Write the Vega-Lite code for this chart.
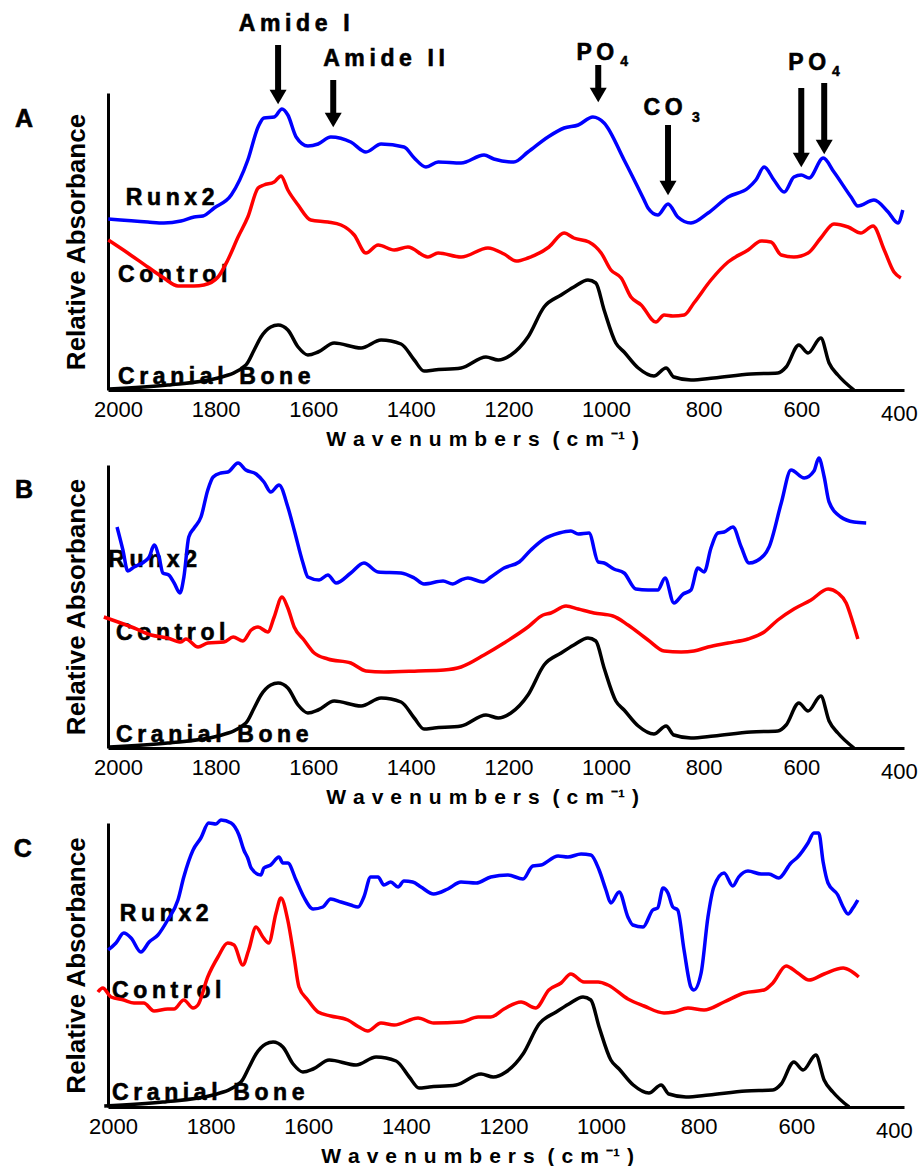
{
"$schema": "https://vega.github.io/schema/vega-lite/v6.json",
"background": "white",
"padding": {"left": 13, "top": 13, "right": 0, "bottom": 0},
"config": {"view": {"stroke": null}, "font": "Liberation Sans", "axis": {"labelFont": "Liberation Sans", "titleFont": "Liberation Sans", "grid": false}},
"bounds": "flush",
"spacing": 75,
"datasets": {
"bone": [{"w":2018,"a":1},{"w":1898,"a":5},{"w":1795,"a":12},{"w":1738,"a":25},{"w":1721,"a":40},{"w":1707,"a":53},{"w":1687,"a":63},{"w":1672,"a":65},{"w":1652,"a":60},{"w":1631,"a":43},{"w":1611,"a":35},{"w":1590,"a":38},{"w":1557,"a":47},{"w":1502,"a":42},{"w":1461,"a":50},{"w":1420,"a":46},{"w":1393,"a":30},{"w":1373,"a":19},{"w":1352,"a":20},{"w":1297,"a":22},{"w":1246,"a":33},{"w":1221,"a":30},{"w":1195,"a":35},{"w":1160,"a":53},{"w":1127,"a":83},{"w":1092,"a":95},{"w":1066,"a":103},{"w":1037,"a":110},{"w":1021,"a":107},{"w":1004,"a":80},{"w":980,"a":47},{"w":963,"a":38},{"w":934,"a":22},{"w":902,"a":14},{"w":877,"a":22},{"w":861,"a":13},{"w":826,"a":10},{"w":779,"a":12},{"w":703,"a":16},{"w":648,"a":17},{"w":631,"a":23},{"w":605,"a":45},{"w":586,"a":37},{"w":560,"a":52},{"w":543,"a":27},{"w":525,"a":15},{"w":492,"a":0}],
"runxA": [{"w":2020,"a":171},{"w":1939,"a":168},{"w":1906,"a":167},{"w":1871,"a":169},{"w":1844,"a":173},{"w":1826,"a":174},{"w":1803,"a":182},{"w":1768,"a":195},{"w":1734,"a":230},{"w":1713,"a":263},{"w":1701,"a":272},{"w":1680,"a":273},{"w":1664,"a":281},{"w":1652,"a":275},{"w":1635,"a":253},{"w":1611,"a":244},{"w":1590,"a":246},{"w":1564,"a":253},{"w":1523,"a":248},{"w":1492,"a":238},{"w":1461,"a":246},{"w":1414,"a":243},{"w":1393,"a":232},{"w":1369,"a":223},{"w":1344,"a":228},{"w":1297,"a":227},{"w":1250,"a":235},{"w":1230,"a":231},{"w":1189,"a":228},{"w":1160,"a":238},{"w":1119,"a":253},{"w":1086,"a":262},{"w":1057,"a":265},{"w":1027,"a":273},{"w":1004,"a":267},{"w":963,"a":230},{"w":922,"a":190},{"w":914,"a":182},{"w":894,"a":175},{"w":873,"a":186},{"w":853,"a":173},{"w":826,"a":167},{"w":791,"a":177},{"w":750,"a":193},{"w":709,"a":202},{"w":693,"a":210},{"w":676,"a":223},{"w":656,"a":210},{"w":635,"a":198},{"w":615,"a":213},{"w":600,"a":215},{"w":584,"a":212},{"w":555,"a":232},{"w":533,"a":218},{"w":498,"a":193},{"w":484,"a":184},{"w":451,"a":190},{"w":422,"a":178},{"w":402,"a":167},{"w":392,"a":180}],
"ctrlA": [{"w":2020,"a":150},{"w":1980,"a":137},{"w":1939,"a":123},{"w":1906,"a":112},{"w":1877,"a":104},{"w":1844,"a":104},{"w":1824,"a":105},{"w":1795,"a":113},{"w":1775,"a":130},{"w":1754,"a":153},{"w":1734,"a":173},{"w":1713,"a":202},{"w":1701,"a":205},{"w":1680,"a":208},{"w":1666,"a":214},{"w":1652,"a":200},{"w":1631,"a":185},{"w":1605,"a":170},{"w":1570,"a":168},{"w":1543,"a":165},{"w":1516,"a":155},{"w":1492,"a":137},{"w":1467,"a":145},{"w":1434,"a":140},{"w":1406,"a":143},{"w":1365,"a":133},{"w":1344,"a":137},{"w":1297,"a":133},{"w":1242,"a":142},{"w":1209,"a":136},{"w":1184,"a":129},{"w":1160,"a":132},{"w":1117,"a":143},{"w":1086,"a":157},{"w":1066,"a":152},{"w":1035,"a":148},{"w":1010,"a":137},{"w":990,"a":120},{"w":969,"a":112},{"w":949,"a":93},{"w":928,"a":85},{"w":898,"a":68},{"w":881,"a":75},{"w":863,"a":74},{"w":840,"a":75},{"w":820,"a":87},{"w":785,"a":110},{"w":750,"a":128},{"w":709,"a":140},{"w":682,"a":149},{"w":662,"a":148},{"w":641,"a":135},{"w":615,"a":133},{"w":586,"a":137},{"w":560,"a":152},{"w":533,"a":166},{"w":504,"a":163},{"w":478,"a":157},{"w":453,"a":164},{"w":430,"a":140},{"w":410,"a":118},{"w":396,"a":112}],
"runxB": [{"w":2002,"a":221},{"w":1990,"a":198},{"w":1980,"a":177},{"w":1967,"a":181},{"w":1947,"a":186},{"w":1936,"a":191},{"w":1926,"a":203},{"w":1916,"a":191},{"w":1908,"a":175},{"w":1896,"a":173},{"w":1885,"a":165},{"w":1873,"a":155},{"w":1865,"a":171},{"w":1855,"a":211},{"w":1844,"a":220},{"w":1830,"a":231},{"w":1816,"a":258},{"w":1805,"a":271},{"w":1789,"a":275},{"w":1775,"a":276},{"w":1754,"a":285},{"w":1738,"a":278},{"w":1717,"a":274},{"w":1701,"a":266},{"w":1687,"a":256},{"w":1670,"a":263},{"w":1652,"a":241},{"w":1639,"a":218},{"w":1621,"a":185},{"w":1611,"a":171},{"w":1588,"a":168},{"w":1570,"a":173},{"w":1553,"a":165},{"w":1523,"a":175},{"w":1496,"a":185},{"w":1467,"a":176},{"w":1420,"a":175},{"w":1393,"a":170},{"w":1373,"a":164},{"w":1334,"a":167},{"w":1314,"a":164},{"w":1297,"a":168},{"w":1283,"a":170},{"w":1252,"a":166},{"w":1236,"a":171},{"w":1209,"a":180},{"w":1178,"a":186},{"w":1154,"a":198},{"w":1127,"a":209},{"w":1096,"a":215},{"w":1072,"a":217},{"w":1057,"a":214},{"w":1035,"a":215},{"w":1016,"a":186},{"w":1004,"a":185},{"w":984,"a":179},{"w":963,"a":175},{"w":939,"a":159},{"w":914,"a":158},{"w":894,"a":158},{"w":879,"a":170},{"w":861,"a":145},{"w":842,"a":154},{"w":826,"a":158},{"w":812,"a":180},{"w":799,"a":176},{"w":785,"a":200},{"w":771,"a":215},{"w":758,"a":216},{"w":740,"a":221},{"w":723,"a":201},{"w":707,"a":185},{"w":676,"a":193},{"w":666,"a":201},{"w":641,"a":245},{"w":621,"a":278},{"w":594,"a":270},{"w":574,"a":277},{"w":564,"a":290},{"w":553,"a":271},{"w":543,"a":246},{"w":519,"a":231},{"w":492,"a":226},{"w":467,"a":225}],
"ctrlB": [{"w":2029,"a":131},{"w":2000,"a":126},{"w":1967,"a":120},{"w":1932,"a":113},{"w":1898,"a":110},{"w":1871,"a":106},{"w":1861,"a":109},{"w":1836,"a":101},{"w":1816,"a":105},{"w":1783,"a":106},{"w":1764,"a":111},{"w":1744,"a":107},{"w":1727,"a":118},{"w":1713,"a":121},{"w":1693,"a":116},{"w":1680,"a":131},{"w":1664,"a":151},{"w":1652,"a":140},{"w":1639,"a":121},{"w":1619,"a":108},{"w":1598,"a":95},{"w":1570,"a":89},{"w":1523,"a":85},{"w":1492,"a":77},{"w":1455,"a":76},{"w":1385,"a":77},{"w":1332,"a":78},{"w":1297,"a":81},{"w":1250,"a":93},{"w":1209,"a":105},{"w":1160,"a":121},{"w":1129,"a":133},{"w":1113,"a":135},{"w":1082,"a":142},{"w":1057,"a":139},{"w":1025,"a":135},{"w":986,"a":132},{"w":955,"a":123},{"w":914,"a":108},{"w":881,"a":97},{"w":846,"a":96},{"w":820,"a":97},{"w":791,"a":101},{"w":750,"a":105},{"w":709,"a":109},{"w":676,"a":116},{"w":648,"a":128},{"w":615,"a":139},{"w":580,"a":148},{"w":545,"a":159},{"w":525,"a":155},{"w":508,"a":145},{"w":494,"a":125},{"w":484,"a":109}],
"runxC": [{"w":2010,"a":157},{"w":1994,"a":164},{"w":1978,"a":174},{"w":1963,"a":169},{"w":1943,"a":155},{"w":1926,"a":165},{"w":1908,"a":172},{"w":1888,"a":187},{"w":1867,"a":207},{"w":1855,"a":230},{"w":1836,"a":257},{"w":1820,"a":269},{"w":1804,"a":284},{"w":1789,"a":283},{"w":1779,"a":287},{"w":1758,"a":284},{"w":1742,"a":272},{"w":1732,"a":257},{"w":1724,"a":249},{"w":1717,"a":239},{"w":1697,"a":232},{"w":1691,"a":239},{"w":1677,"a":242},{"w":1660,"a":250},{"w":1652,"a":244},{"w":1642,"a":244},{"w":1625,"a":227},{"w":1609,"a":210},{"w":1590,"a":198},{"w":1570,"a":200},{"w":1554,"a":208},{"w":1533,"a":205},{"w":1513,"a":202},{"w":1498,"a":200},{"w":1486,"a":210},{"w":1472,"a":230},{"w":1457,"a":230},{"w":1445,"a":222},{"w":1431,"a":225},{"w":1416,"a":220},{"w":1404,"a":226},{"w":1386,"a":225},{"w":1369,"a":220},{"w":1343,"a":213},{"w":1314,"a":218},{"w":1287,"a":225},{"w":1256,"a":224},{"w":1226,"a":230},{"w":1191,"a":232},{"w":1160,"a":228},{"w":1140,"a":241},{"w":1123,"a":242},{"w":1088,"a":251},{"w":1068,"a":250},{"w":1041,"a":253},{"w":1021,"a":252},{"w":1004,"a":237},{"w":990,"a":217},{"w":980,"a":204},{"w":963,"a":215},{"w":945,"a":190},{"w":935,"a":182},{"w":914,"a":180},{"w":894,"a":197},{"w":884,"a":199},{"w":873,"a":219},{"w":863,"a":214},{"w":853,"a":200},{"w":843,"a":197},{"w":830,"a":157},{"w":816,"a":120},{"w":810,"a":117},{"w":795,"a":134},{"w":781,"a":190},{"w":769,"a":220},{"w":748,"a":234},{"w":730,"a":221},{"w":718,"a":230},{"w":699,"a":236},{"w":672,"a":233},{"w":656,"a":233},{"w":636,"a":229},{"w":611,"a":244},{"w":597,"a":250},{"w":576,"a":264},{"w":564,"a":274},{"w":554,"a":274},{"w":545,"a":245},{"w":535,"a":224},{"w":515,"a":212},{"w":504,"a":200},{"w":494,"a":193},{"w":484,"a":199},{"w":474,"a":207}],
"ctrlC": [{"w":2031,"a":115},{"w":2021,"a":119},{"w":2004,"a":110},{"w":1978,"a":107},{"w":1957,"a":104},{"w":1937,"a":104},{"w":1916,"a":96},{"w":1888,"a":98},{"w":1875,"a":98},{"w":1855,"a":107},{"w":1836,"a":99},{"w":1826,"a":102},{"w":1806,"a":130},{"w":1785,"a":150},{"w":1765,"a":164},{"w":1752,"a":162},{"w":1734,"a":142},{"w":1722,"a":157},{"w":1707,"a":180},{"w":1693,"a":170},{"w":1681,"a":164},{"w":1666,"a":194},{"w":1656,"a":209},{"w":1642,"a":187},{"w":1629,"a":150},{"w":1619,"a":120},{"w":1601,"a":107},{"w":1580,"a":95},{"w":1554,"a":91},{"w":1519,"a":87},{"w":1496,"a":80},{"w":1478,"a":76},{"w":1451,"a":84},{"w":1424,"a":82},{"w":1375,"a":89},{"w":1343,"a":84},{"w":1287,"a":85},{"w":1252,"a":90},{"w":1226,"a":90},{"w":1199,"a":98},{"w":1164,"a":105},{"w":1134,"a":99},{"w":1107,"a":117},{"w":1082,"a":124},{"w":1062,"a":133},{"w":1035,"a":125},{"w":1006,"a":125},{"w":986,"a":122},{"w":945,"a":108},{"w":912,"a":101},{"w":871,"a":94},{"w":851,"a":95},{"w":822,"a":99},{"w":789,"a":97},{"w":748,"a":105},{"w":707,"a":114},{"w":666,"a":117},{"w":648,"a":124},{"w":621,"a":141},{"w":597,"a":134},{"w":574,"a":127},{"w":543,"a":133},{"w":504,"a":139},{"w":488,"a":136},{"w":472,"a":130}]
},
"vconcat": [
{
"width": 796, "height": 297,
"encoding": {
"x": {"field": "w", "type": "quantitative", "scale": {"domain": [2020.5, 389.5], "nice": false, "zero": false},
 "axis": {"values": [2000,1800,1600,1400,1200,1000,800,600,400], "format": "d", "ticks": false, "domainWidth": 3, "domainColor": "#000000", "labelFontSize": 22, "labelColor": "#000000", "labelBaseline": "alphabetic", "labelPadding": {"expr": "datum.value == 400 ? 30 : 26"}, "labelFlush": false, "labelOverlap": false, "title": "W\u2004a\u2004v\u2004e\u2004n\u2004u\u2004m\u2004b\u2004e\u2004r\u2004s \u2004(\u2004c\u2004m\u2004\u207b\u00b9\u2004)", "titleFontSize": 21, "titleFontWeight": "bold", "titleColor": "#000000", "titleX": 374, "titleY": 55, "titleAlign": "center", "titleBaseline": "alphabetic"}},
"y": {"field": "a", "type": "quantitative", "scale": {"domain": [0, 297], "nice": false, "zero": false},
 "axis": {"labels": false, "ticks": false, "domainWidth": 3, "domainColor": "#000000", "title": "Relative Absorbance", "titleFontSize": 26, "titleFontWeight": "bold", "titleColor": "#000000", "titlePadding": 19}}
},
"layer": [
{"data": {"values": [{"w": 2192.6, "a": 263, "t": "A"}]}, "mark": {"type": "text", "fontSize": 25, "fontWeight": "bold", "align": "center", "baseline": "alphabetic", "color": "#000000", "stroke": "#000000", "strokeWidth": 0.6}, "encoding": {"text": {"field": "t", "type": "nominal"}}},
{"data": {"values": [{"w": 1984, "a": 185, "t": "R\u2009u\u2009n\u2009x\u20092"}, {"w": 2000, "a": 108, "t": "C\u2009o\u2009n\u2009t\u2009r\u2009o\u2009l"}, {"w": 2000, "a": 6, "t": "C\u2009r\u2009a\u2009n\u2009i\u2009a\u2009l\u2009 \u2009B\u2009o\u2009n\u2009e"}]}, "mark": {"type": "text", "fontSize": 23, "fontWeight": "bold", "align": "left", "baseline": "alphabetic", "color": "#000000", "stroke": "#000000", "strokeWidth": 0.6}, "encoding": {"text": {"field": "t", "type": "nominal"}}},
{"data": {"values": [{"w": 1639, "a": 359, "t": "A\u2009m\u2009i\u2009d\u2009e\u2009 \u2009I"}, {"w": 1455, "a": 324, "t": "A\u2009m\u2009i\u2009d\u2009e\u2009 \u2009I\u2009I"}, {"w": 1022, "a": 330, "t": "P\u2009O"}, {"w": 883, "a": 275, "t": "C\u2009O"}, {"w": 588, "a": 320, "t": "P\u2009O"}]}, "mark": {"type": "text", "fontSize": 23, "fontWeight": "bold", "align": "center", "baseline": "alphabetic", "color": "#000000", "stroke": "#000000", "strokeWidth": 0.6}, "encoding": {"text": {"field": "t", "type": "nominal"}}},
{"data": {"values": [{"w": 963, "a": 324, "t": "4"}, {"w": 816, "a": 268, "t": "3"}, {"w": 529, "a": 314, "t": "4"}]}, "mark": {"type": "text", "fontSize": 14, "fontWeight": "bold", "align": "center", "baseline": "alphabetic", "color": "#000000", "stroke": "#000000", "strokeWidth": 0.5}, "encoding": {"text": {"field": "t", "type": "nominal"}}},
{"data": {"values": [{"w": 1672, "a": 345, "a2": 293}, {"w": 1559, "a": 310, "a2": 270}, {"w": 1016, "a": 325, "a2": 295}, {"w": 873, "a": 265, "a2": 202}, {"w": 600, "a": 302, "a2": 230}, {"w": 553, "a": 307, "a2": 243}]}, "mark": {"type": "rule", "strokeWidth": 6, "color": "#000000"}, "encoding": {"y2": {"field": "a2"}}},
{"data": {"values": [{"w": 1672, "a": 293}, {"w": 1559, "a": 270}, {"w": 1016, "a": 295}, {"w": 873, "a": 202}, {"w": 600, "a": 230}, {"w": 553, "a": 243}]}, "mark": {"type": "point", "shape": "triangle-down", "filled": true, "size": 289, "color": "#000000", "opacity": 1}, "encoding": {}},
{"data": {"name": "bone"}, "mark": {"type": "line", "color": "#000000", "strokeWidth": 3.5, "interpolate": "monotone"}, "encoding": {}},
{"data": {"name": "ctrlA"}, "mark": {"type": "line", "color": "#ff0000", "strokeWidth": 3.5, "interpolate": "monotone"}, "encoding": {}},
{"data": {"name": "runxA"}, "mark": {"type": "line", "color": "#0000ff", "strokeWidth": 3.5, "interpolate": "monotone"}, "encoding": {}}
]
},
{
"width": 796, "height": 283,
"encoding": {
"x": {"field": "w", "type": "quantitative", "scale": {"domain": [2020.5, 389.5], "nice": false, "zero": false},
 "axis": {"values": [2000,1800,1600,1400,1200,1000,800,600,400], "format": "d", "ticks": false, "domainWidth": 3, "domainColor": "#000000", "labelFontSize": 22, "labelColor": "#000000", "labelBaseline": "alphabetic", "labelPadding": {"expr": "datum.value == 400 ? 30 : 26"}, "labelFlush": false, "labelOverlap": false, "title": "W\u2004a\u2004v\u2004e\u2004n\u2004u\u2004m\u2004b\u2004e\u2004r\u2004s \u2004(\u2004c\u2004m\u2004\u207b\u00b9\u2004)", "titleFontSize": 21, "titleFontWeight": "bold", "titleColor": "#000000", "titleX": 374, "titleY": 55, "titleAlign": "center", "titleBaseline": "alphabetic"}},
"y": {"field": "a", "type": "quantitative", "scale": {"domain": [0, 283], "nice": false, "zero": false},
 "axis": {"labels": false, "ticks": false, "domainWidth": 3, "domainColor": "#000000", "title": "Relative Absorbance", "titleFontSize": 26, "titleFontWeight": "bold", "titleColor": "#000000", "titlePadding": 19}}
},
"layer": [
{"data": {"values": [{"w": 2192.6, "a": 250, "t": "B"}]}, "mark": {"type": "text", "fontSize": 25, "fontWeight": "bold", "align": "center", "baseline": "alphabetic", "color": "#000000", "stroke": "#000000", "strokeWidth": 0.6}, "encoding": {"text": {"field": "t", "type": "nominal"}}},
{"data": {"values": [{"w": 2020, "a": 181, "t": "R\u2009u\u2009n\u2009x\u20092"}, {"w": 2004, "a": 108, "t": "C\u2009o\u2009n\u2009t\u2009r\u2009o\u2009l"}, {"w": 2004, "a": 6, "t": "C\u2009r\u2009a\u2009n\u2009i\u2009a\u2009l\u2009 \u2009B\u2009o\u2009n\u2009e"}]}, "mark": {"type": "text", "fontSize": 23, "fontWeight": "bold", "align": "left", "baseline": "alphabetic", "color": "#000000", "stroke": "#000000", "strokeWidth": 0.6}, "encoding": {"text": {"field": "t", "type": "nominal"}}},
{"data": {"name": "bone"}, "mark": {"type": "line", "color": "#000000", "strokeWidth": 3.5, "interpolate": "monotone"}, "encoding": {}},
{"data": {"name": "ctrlB"}, "mark": {"type": "line", "color": "#ff0000", "strokeWidth": 3.5, "interpolate": "monotone"}, "encoding": {}},
{"data": {"name": "runxB"}, "mark": {"type": "line", "color": "#0000ff", "strokeWidth": 3.5, "interpolate": "monotone"}, "encoding": {}}
]
},
{
"width": 796, "height": 284,
"encoding": {
"x": {"field": "w", "type": "quantitative", "scale": {"domain": [2010.3, 379.3], "nice": false, "zero": false},
 "axis": {"values": [2000,1800,1600,1400,1200,1000,800,600,400], "format": "d", "ticks": false, "domainWidth": 3, "domainColor": "#000000", "labelFontSize": 22, "labelColor": "#000000", "labelBaseline": "alphabetic", "labelPadding": {"expr": "datum.value == 400 ? 30 : 26"}, "labelFlush": false, "labelOverlap": false, "title": "W\u2004a\u2004v\u2004e\u2004n\u2004u\u2004m\u2004b\u2004e\u2004r\u2004s \u2004(\u2004c\u2004m\u2004\u207b\u00b9\u2004)", "titleFontSize": 21, "titleFontWeight": "bold", "titleColor": "#000000", "titleX": 369, "titleY": 55, "titleAlign": "center", "titleBaseline": "alphabetic"}},
"y": {"field": "a", "type": "quantitative", "scale": {"domain": [0, 284], "nice": false, "zero": false},
 "axis": {"labels": false, "ticks": false, "domainWidth": 3, "domainColor": "#000000", "title": "Relative Absorbance", "titleFontSize": 26, "titleFontWeight": "bold", "titleColor": "#000000", "titlePadding": 19}}
},
"layer": [
{"data": {"values": [{"w": 2185, "a": 250, "t": "C"}]}, "mark": {"type": "text", "fontSize": 25, "fontWeight": "bold", "align": "center", "baseline": "alphabetic", "color": "#000000", "stroke": "#000000", "strokeWidth": 0.6}, "encoding": {"text": {"field": "t", "type": "nominal"}}},
{"data": {"values": [{"w": 1986, "a": 186, "t": "R\u2009u\u2009n\u2009x\u20092"}, {"w": 2002, "a": 109, "t": "C\u2009o\u2009n\u2009t\u2009r\u2009o\u2009l"}, {"w": 2002, "a": 7, "t": "C\u2009r\u2009a\u2009n\u2009i\u2009a\u2009l\u2009 \u2009B\u2009o\u2009n\u2009e"}]}, "mark": {"type": "text", "fontSize": 23, "fontWeight": "bold", "align": "left", "baseline": "alphabetic", "color": "#000000", "stroke": "#000000", "strokeWidth": 0.6}, "encoding": {"text": {"field": "t", "type": "nominal"}}},
{"data": {"name": "bone"}, "mark": {"type": "line", "color": "#000000", "strokeWidth": 3.5, "interpolate": "monotone"}, "encoding": {}},
{"data": {"name": "ctrlC"}, "mark": {"type": "line", "color": "#ff0000", "strokeWidth": 3.5, "interpolate": "monotone"}, "encoding": {}},
{"data": {"name": "runxC"}, "mark": {"type": "line", "color": "#0000ff", "strokeWidth": 3.5, "interpolate": "monotone"}, "encoding": {}}
]
}
]
}
